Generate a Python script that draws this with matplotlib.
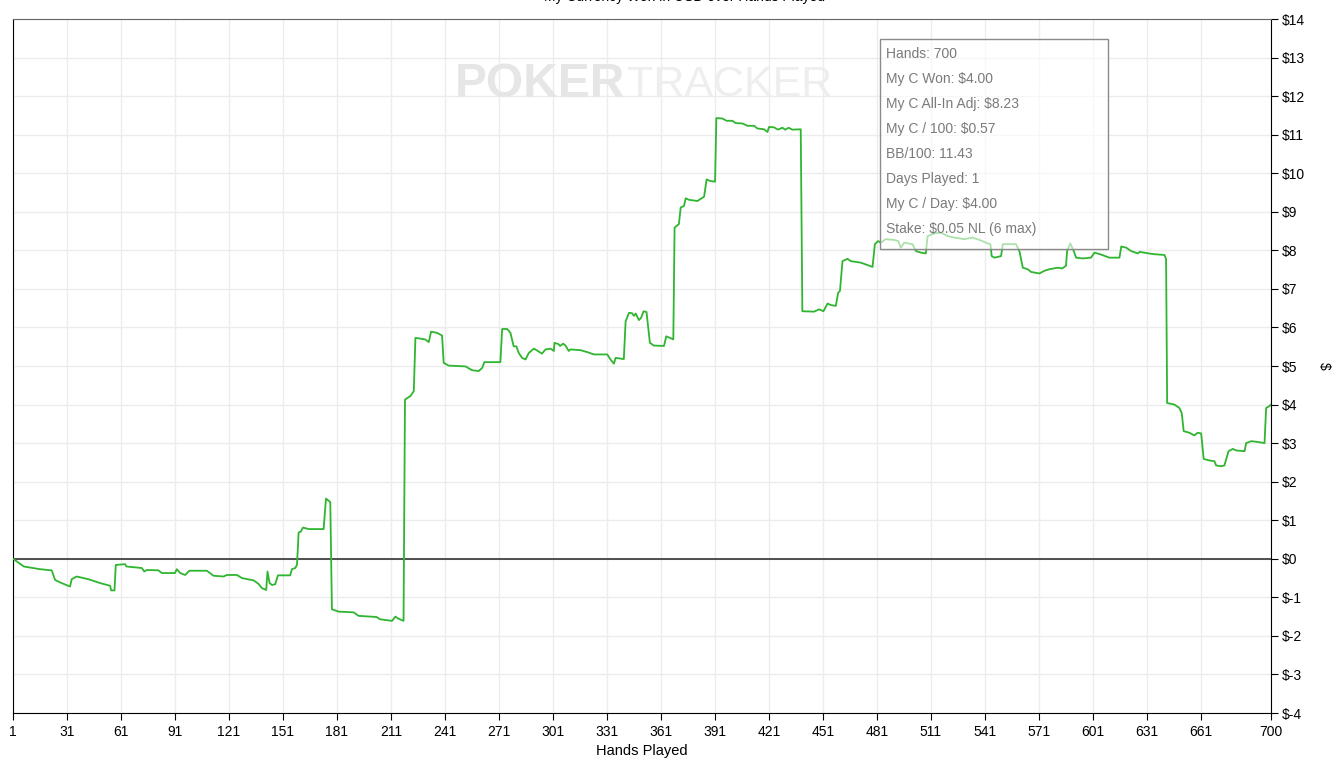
import numpy as np
import matplotlib
matplotlib.use("Agg")
import matplotlib.pyplot as plt

plt.rcParams['font.family'] = ['Liberation Sans', 'DejaVu Sans']

# cumulative winnings (hand number, $ won)
hands = [1, 4, 7, 16, 22.5, 24.4, 28, 32.7, 33.6, 36.4, 42.9, 49.4, 55, 55.5, 57.4, 58.1,
         63.3, 64, 72.6, 73.9, 75.4, 81.8, 83.7, 91, 92, 93.9, 96.7, 99, 108.7, 112.4,
         118, 119.8, 125.4, 128.2, 134.7, 137.4, 139.3, 141.7, 142.4, 143.6, 144.9,
         146.7, 148.2, 155, 156, 157.8, 158.8, 159.7, 161, 162.1, 165.3, 173.6, 174.9,
         177.3, 178.2, 181.9, 190.3, 193, 203, 205, 211.6, 213.5, 215, 218, 218.8,
         221.8, 223.7, 224.6, 230, 232, 233.3, 236.6, 239.4, 240.3, 243.1, 252.4,
         256.1, 259.8, 261.7, 262.9, 271.8, 272.8, 275.6, 277.4, 279.2, 280.7, 282,
         283.9, 285.8, 287.6, 290.4, 292.3, 294.9, 296.9, 299.7, 301.5, 301.9, 304,
         305, 306.7, 308, 309.8, 310.8, 316.4, 320.1, 323.8, 331.2, 333, 334.9, 335.8,
         340.4, 341.4, 343.3, 345, 346, 347, 348.8, 350, 351.4, 353, 354.9, 357.1,
         362.7, 364, 367.9, 368.6, 371, 372, 373.8, 374.8, 376.6, 381.3, 385, 386.4,
         388.3, 391.1, 391.8, 395.1, 397.5, 400.7, 402.6, 406.3, 409.1, 412.8, 414.6,
         418.3, 420.2, 421.1, 423.9, 426, 428.5, 430, 432, 434, 438.7, 439.6, 446.1,
         448.9, 451.3, 453.6, 455.5, 458.2, 459.5, 460.5, 461.9, 464.7, 466.5, 472.1,
         476.7, 478.6, 479.9, 481.7, 483.2, 486, 490.6, 492.9, 494.3, 496.2, 500.8,
         502.7, 505.5, 508.2, 509.2, 512.9, 516.6, 520.3, 524, 529.6, 534, 538, 542.6,
         544.1, 544.8, 546.3, 550, 551, 558.3, 560.2, 562.1, 564.8, 566.7, 571.3,
         574.1, 576.9, 581.5, 584, 586.1, 586.7, 588.5, 590.4, 591.7, 595.4, 600,
         601.9, 605, 610.2, 615.8, 616.8, 619.5, 622.3, 626, 627, 632, 635, 640.8,
         641.7, 642.3, 646.3, 649.1, 650.4, 651.5, 654.6, 657.4, 659.3, 661.2, 662.6,
         665.8, 668.6, 669.5, 672.3, 674.1, 676.4, 678.8, 680.6, 685.3, 686.2, 689,
         692.7, 696.4, 697.3, 699.1, 700]
won = [0.0, -0.1, -0.2, -0.27, -0.30, -0.55, -0.63, -0.72, -0.53, -0.46, -0.53, -0.63,
       -0.70, -0.82, -0.82, -0.16, -0.14, -0.2, -0.24, -0.33, -0.29, -0.30, -0.37, -0.37,
       -0.27, -0.37, -0.42, -0.31, -0.31, -0.44, -0.46, -0.42, -0.42, -0.50, -0.56,
       -0.65, -0.76, -0.81, -0.33, -0.63, -0.68, -0.66, -0.43, -0.43, -0.27, -0.24,
       -0.16, 0.68, 0.71, 0.81, 0.77, 0.77, 1.56, 1.47, -1.31, -1.37, -1.39, -1.48,
       -1.51, -1.57, -1.61, -1.50, -1.55, -1.61, 4.13, 4.22, 4.35, 5.73, 5.69, 5.62,
       5.89, 5.86, 5.79, 5.08, 5.01, 4.99, 4.89, 4.87, 4.95, 5.10, 5.10, 5.96, 5.96,
       5.86, 5.51, 5.51, 5.34, 5.21, 5.17, 5.34, 5.45, 5.40, 5.32, 5.43, 5.45, 5.39,
       5.60, 5.57, 5.52, 5.58, 5.53, 5.39, 5.43, 5.41, 5.36, 5.30, 5.30, 5.17, 5.06,
       5.21, 5.18, 6.16, 6.38, 6.37, 6.30, 6.36, 6.19, 6.25, 6.42, 6.40, 5.60, 5.53,
       5.52, 5.77, 5.69, 8.59, 8.68, 9.11, 9.15, 9.35, 9.31, 9.28, 9.39, 9.84, 9.80,
       9.78, 11.43, 11.42, 11.36, 11.36, 11.30, 11.29, 11.23, 11.23, 11.16, 11.14,
       11.07, 11.20, 11.19, 11.13, 11.18, 11.13, 11.18, 11.13, 11.14, 6.42, 6.41,
       6.47, 6.42, 6.62, 6.58, 6.56, 6.90, 6.95, 7.72, 7.78, 7.72, 7.68, 7.60, 7.57,
       8.16, 8.24, 8.20, 8.29, 8.27, 8.24, 8.07, 8.20, 8.16, 7.98, 7.94, 7.92, 8.37,
       8.44, 8.46, 8.37, 8.33, 8.29, 8.33, 8.27, 8.18, 8.16, 7.85, 7.81, 7.85, 8.16,
       8.16, 7.98, 7.55, 7.51, 7.44, 7.40, 7.47, 7.51, 7.55, 7.53, 7.60, 7.98, 8.18,
       7.98, 7.81, 7.79, 7.81, 7.94, 7.90, 7.81, 7.81, 8.10, 8.07, 7.98, 7.92, 7.96,
       7.92, 7.90, 7.88, 7.77, 4.04, 4.00, 3.91, 3.78, 3.31, 3.27, 3.20, 3.27, 3.25,
       2.59, 2.55, 2.53, 2.42, 2.40, 2.42, 2.79, 2.85, 2.81, 2.79, 3.00, 3.05, 3.03,
       3.00, 3.91, 3.96, 4.00]

xticks = [1, 31, 61, 91, 121, 151, 181, 211, 241, 271, 301, 331, 361, 391, 421, 451,
          481, 511, 541, 571, 601, 631, 661, 700]
yticks = list(range(-4, 15))

tooltip = ["Hands: 700", "My C Won: $4.00", "My C All-In Adj: $8.23", "My C / 100: $0.57",
           "BB/100: 11.43", "Days Played: 1", "My C / Day: $4.00", "Stake: $0.05 NL (6 max)"]

fig = plt.figure(figsize=(13.37, 7.6), dpi=100)
ax = fig.add_axes([13/1337, 47/760, 1258/1337, 694/760])

ax.plot(hands, won, color='#2fb52f', lw=1.3, zorder=3)
ax.axhline(0, color='#222222', lw=1.1, zorder=2)

ax.set_xlim(1, 700)
ax.set_ylim(-4, 14)
ax.set_xticks(xticks)
ax.set_yticks(yticks)
ax.set_yticklabels(['$' + str(v) for v in yticks])
ax.yaxis.tick_right()
ax.yaxis.set_label_position('right')
ax.tick_params(axis='both', labelsize=10, length=5, color='black')
ax.tick_params(axis='y', pad=3)
ax.grid(True, color='#ececec', lw=1, zorder=0)
ax.set_axisbelow(True)
for s in ['left', 'bottom', 'right']:
    ax.spines[s].set_color('black')
ax.spines['top'].set_color('#666666')

ax.set_xlabel('Hands Played', fontsize=10.5, labelpad=4)
ax.set_ylabel('$', fontsize=10, rotation=-90, labelpad=18)

fig.text(0.512, 1 - 1/760, 'My Currency Won in USD over Hands Played', ha='center',
         va='baseline', fontsize=10)

# watermark
ax.text((455 - 13) / 1258, 0.905, 'POKER', transform=ax.transAxes, fontsize=34.5,
        fontweight='bold', color='#e6e6e6', ha='left', va='center', zorder=1)
ax.text((627 - 13) / 1258, 0.905, 'TRACKER', transform=ax.transAxes, fontsize=31,
        color='#eeeeee', ha='left', va='center', zorder=1)

# hover tooltip
bx0, by0 = (880 - 13) / 1258, (713 - 249) / 694
bw, bh = 228 / 1258, 210 / 694
ax.add_patch(plt.Rectangle((bx0, by0), bw, bh, transform=ax.transAxes,
                           facecolor='white', alpha=0.6, edgecolor='none', zorder=4))
ax.add_patch(plt.Rectangle((bx0, by0), bw, bh, transform=ax.transAxes,
                           facecolor='none', edgecolor='#8a8a8a', lw=1, zorder=5))
for i, line in enumerate(tooltip):
    ax.text((886 - 13) / 1258, (713 - 54 - 25 * i) / 694, line, transform=ax.transAxes,
            fontsize=10, color='#7a7a7a', ha='left', va='center', zorder=6)

fig.savefig('out.png', dpi=100)
